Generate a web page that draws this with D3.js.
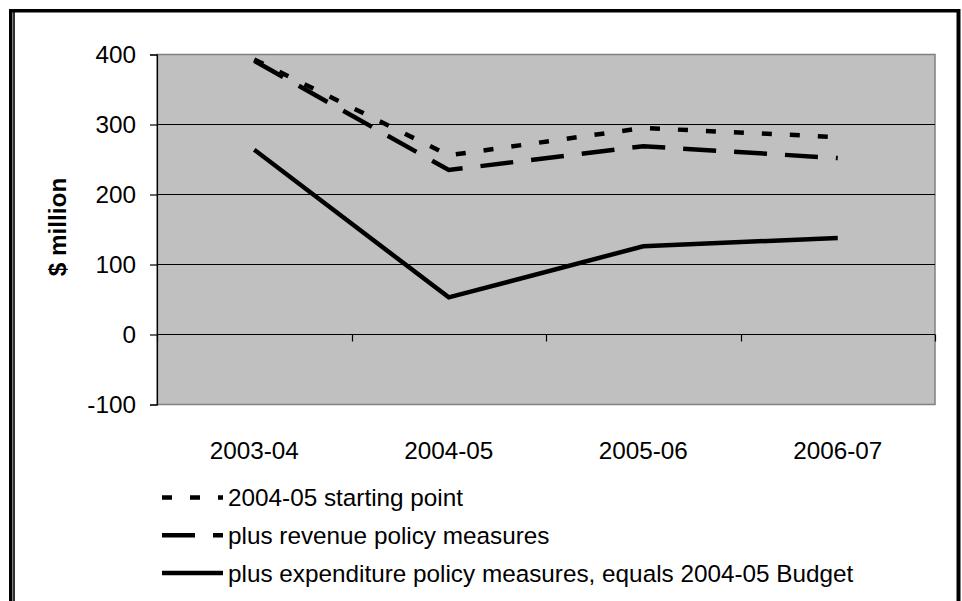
<!DOCTYPE html>
<html>
<head>
<meta charset="utf-8">
<script src="https://cdn.jsdelivr.net/npm/d3@7"></script>
<style>
  html, body { margin: 0; padding: 0; background: #fff; }
  svg { display: block; font-family: "Liberation Sans", Arial, sans-serif; }
</style>
</head>
<body>
<svg id="chart" width="962" height="601"></svg>
<script>
// Budget position estimates, $ million
const categories = ["2003-04", "2004-05", "2005-06", "2006-07"];
const startingPoint = [393, 256, 295, 282];
const revenueMeasures = [391, 235, 269, 252];
const budgetMeasures = [264, 53, 126, 138];
const yTicks = [-100, 0, 100, 200, 300, 400];
const seriesNames = [
  "2004-05 starting point",
  "plus revenue policy measures",
  "plus expenditure policy measures, equals 2004-05 Budget"
];

const series = [
  { name: seriesNames[0], values: startingPoint, dash: "10,18" },
  { name: seriesNames[1], values: revenueMeasures, dash: "33,18" },
  { name: seriesNames[2], values: budgetMeasures, dash: null }
];

const svg = d3.select("#chart");
const plot = { left: 157, right: 935, top: 54.5, bottom: 404.5 };
const fontSize = 24.3;

// Frame: heavy rule on top and right, doubled rule on the left
svg.append("rect").attr("x", 9).attr("y", 9).attr("width", 951).attr("height", 3.5).attr("fill", "#000");
svg.append("rect").attr("x", 9).attr("y", 9).attr("width", 3.5).attr("height", 592).attr("fill", "#000");
svg.append("rect").attr("x", 13.2).attr("y", 12).attr("width", 1.6).attr("height", 589).attr("fill", "#000");
svg.append("rect").attr("x", 956.5).attr("y", 9).attr("width", 4).attr("height", 592).attr("fill", "#000");

const x = d3.scaleBand().domain(categories).range([plot.left, plot.right]).padding(0);
const y = d3.scaleLinear().domain([yTicks[0], yTicks[yTicks.length - 1]]).range([plot.bottom, plot.top]);
const cx = c => x(c) + x.bandwidth() / 2;

// Plot area
svg.append("rect")
  .attr("x", plot.left).attr("y", plot.top)
  .attr("width", plot.right - plot.left).attr("height", plot.bottom - plot.top)
  .attr("fill", "#C0C0C0").attr("stroke", "#808080").attr("stroke-width", 1.5);

// Horizontal gridlines
svg.append("g").selectAll("line")
  .data(yTicks.filter(v => v > 0 && v < 400))
  .join("line")
  .attr("x1", plot.left).attr("x2", plot.right)
  .attr("y1", d => y(d)).attr("y2", d => y(d))
  .attr("stroke", "#000").attr("stroke-width", 1);

// Category labels along the bottom of the plot
const xAxis = svg.append("g")
  .attr("transform", `translate(0,${plot.bottom})`)
  .call(d3.axisBottom(x).tickSize(0).tickPadding(37));
xAxis.select(".domain").remove();
xAxis.selectAll("text").attr("font-size", fontSize).attr("font-family", null).attr("fill", "#000");

// Zero line with tick marks at category boundaries
const zeroY = y(0);
svg.append("line")
  .attr("x1", plot.left).attr("x2", plot.right)
  .attr("y1", zeroY).attr("y2", zeroY)
  .attr("stroke", "#000").attr("stroke-width", 1.2);
const boundaries = categories.map(c => x(c)).concat([x(categories[categories.length - 1]) + x.bandwidth()]);
svg.append("g").selectAll("line")
  .data(boundaries)
  .join("line")
  .attr("x1", d => Math.round(d) + 0.5).attr("x2", d => Math.round(d) + 0.5)
  .attr("y1", zeroY).attr("y2", zeroY + 7)
  .attr("stroke", "#000").attr("stroke-width", 1.2);

// Value axis (plain hyphen for negatives)
const yAxis = svg.append("g")
  .attr("transform", `translate(${plot.left},0)`)
  .call(d3.axisLeft(y).tickValues(yTicks).tickSize(7).tickPadding(14).tickFormat(d => String(d)));
yAxis.select(".domain").attr("stroke", "#000").attr("stroke-width", 1.2);
yAxis.selectAll(".tick line").attr("stroke", "#000").attr("stroke-width", 1.2);
yAxis.selectAll("text").attr("font-size", fontSize).attr("font-family", null).attr("fill", "#000");

// Axis title
svg.append("text")
  .attr("transform", `translate(66,227) rotate(-90)`)
  .attr("text-anchor", "middle")
  .attr("font-size", fontSize)
  .attr("font-weight", "bold")
  .text("$ million");

// Series lines
const line = d3.line()
  .x((d, i) => cx(categories[i]))
  .y(d => y(d));

svg.append("g").selectAll("path")
  .data(series)
  .join("path")
  .attr("d", d => line(d.values))
  .attr("fill", "none")
  .attr("stroke", "#000")
  .attr("stroke-width", 4.5)
  .attr("stroke-dasharray", d => d.dash)
  .attr("stroke-linecap", "butt")
  .attr("stroke-linejoin", "miter");

// Legend
const legend = svg.append("g");
const rowY0 = 497.5, rowStep = 37.75;
const rows = legend.selectAll("g")
  .data(series)
  .join("g")
  .attr("transform", (d, i) => `translate(0,${rowY0 + i * rowStep})`);
rows.append("line")
  .attr("x1", 162).attr("x2", 223)
  .attr("y1", 0).attr("y2", 0)
  .attr("stroke", "#000").attr("stroke-width", 4.5)
  .attr("stroke-dasharray", d => d.dash);
rows.append("text")
  .attr("x", 228).attr("y", 8.7)
  .attr("font-size", fontSize)
  .text(d => d.name);
</script>
</body>
</html>
